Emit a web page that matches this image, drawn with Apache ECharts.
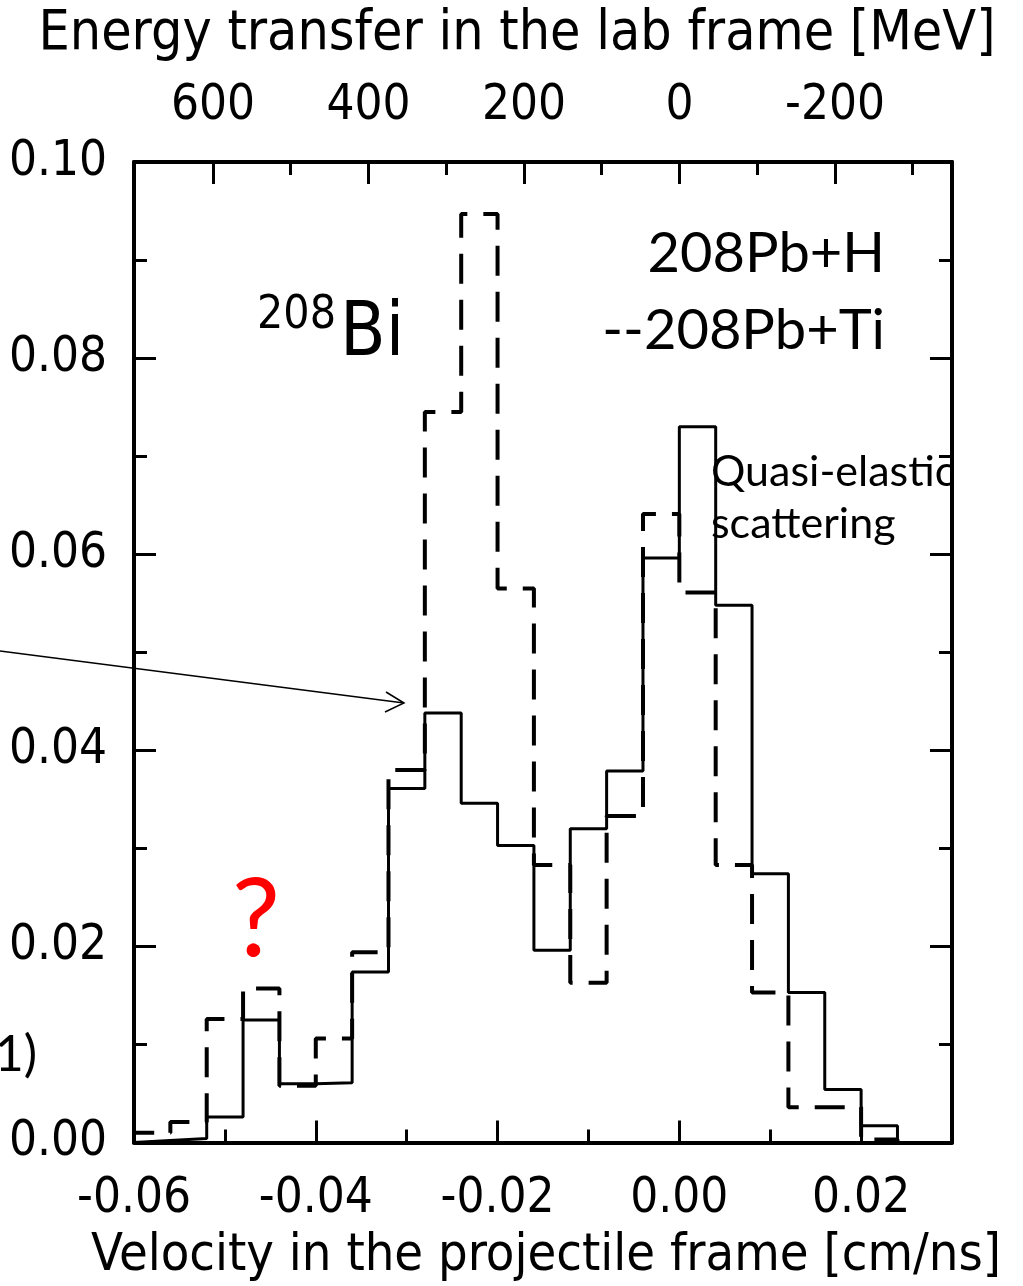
<!DOCTYPE html>
<html lang="en">
<head>
    <meta charset="UTF-8">
    <title>208Bi velocity spectrum</title>
    <style>
        html, body { margin: 0; padding: 0; background: #fff; }
        #chart { width: 1023px; height: 1286px; }
    </style>
</head>
<body>
    <div id="chart"></div>
    <script src="https://cdn.jsdelivr.net/npm/echarts@6.0.0/dist/echarts.min.js"></script>
    <script>
        // histogram bins (left edge, cm/ns), width 0.004
        var binLeft = [-0.060, -0.056, -0.052, -0.048, -0.044, -0.040, -0.036, -0.032, -0.028, -0.024, -0.020,
            -0.016, -0.012, -0.008, -0.004, 0.000, 0.004, 0.008, 0.012, 0.016, 0.020];
        var binWidth = 0.004;

        // 208Pb+H (solid)
        var pbH = [0.0002, 0.0004, 0.0026, 0.0125, 0.0060, 0.0061, 0.0174, 0.0361, 0.0438, 0.0346, 0.0303,
            0.0196, 0.0320, 0.0379, 0.0596, 0.0730, 0.0548, 0.0274, 0.0153, 0.0054, 0.0017];
        // 208Pb+Ti (dashed)
        var pbTi = [0.0010, 0.0021, 0.0126, 0.0157, 0.0058, 0.0106, 0.0194, 0.0380, 0.0745, 0.0947, 0.0565,
            0.0283, 0.0163, 0.0333, 0.0641, 0.0561, 0.0283, 0.0153, 0.0036, 0.0036, 0.0003];

        // tick labels
        var velMajor = [-0.06, -0.04, -0.02, 0, 0.02];
        var velMinor = [-0.05, -0.03, -0.01, 0.01];
        var yMajor = [0, 0.02, 0.04, 0.06, 0.08, 0.10];
        var yMinor = [0.01, 0.03, 0.05, 0.07, 0.09];
        var energyMajor = [600, 400, 200, 0, -200];
        var energyMinor = [500, 300, 100, -100, -300];

        var axisFont = "'DejaVu Sans Condensed', 'DejaVu Sans', sans-serif";
        var slideFont = "Lato, 'Open Sans', sans-serif";

        // histogram outline as step points
        var stepPoints = function (vals) {
            var pts = [[binLeft[0], 0]];
            for (var i = 0; i < vals.length; i++) {
                pts.push([binLeft[i], vals[i]]);
                pts.push([binLeft[i] + binWidth, vals[i]]);
            }
            pts.push([binLeft[binLeft.length - 1] + binWidth, 0]);
            return pts;
        };

        var frame = { show: true, onZero: false, lineStyle: { color: '#000', width: 4 } };
        var noLine = { show: false, onZero: false };
        var majorTick = function (vals) {
            return { show: true, inside: true, length: 22, customValues: vals, lineStyle: { color: '#000', width: 3 } };
        };
        var minorTick = function (vals) {
            return { show: true, inside: true, length: 13, customValues: vals, lineStyle: { color: '#000', width: 3 } };
        };
        var labelStyle = { color: '#000', fontFamily: axisFont, fontSize: 49 };

        var myChart = echarts.init(document.getElementById('chart'));

        var option = {
            animation: false,
            backgroundColor: '#fff',
            grid: { left: 134, right: 71, top: 162, bottom: 143.5, outerBoundsMode: 'none' },
            xAxis: [
                {
                    type: 'value', position: 'bottom', min: -0.06, max: 0.03,
                    axisLine: frame, axisTick: majorTick(velMajor), splitLine: { show: false },
                    axisLabel: Object.assign({
                        customValues: velMajor, margin: 32,
                        formatter: function (v) { return v.toFixed(2); }
                    }, labelStyle)
                },
                {
                    type: 'value', position: 'bottom', min: -0.06, max: 0.03,
                    axisLine: noLine, axisTick: minorTick(velMinor), splitLine: { show: false },
                    axisLabel: { show: false }
                },
                {
                    // energy transfer in the lab frame, runs the other way
                    type: 'value', position: 'top', inverse: true, min: -350.5, max: 701.6,
                    axisLine: frame, axisTick: majorTick(energyMajor), splitLine: { show: false },
                    axisLabel: Object.assign({
                        customValues: energyMajor, margin: 31,
                        formatter: function (v) { return String(v); }
                    }, labelStyle)
                },
                {
                    type: 'value', position: 'top', inverse: true, min: -350.5, max: 701.6,
                    axisLine: noLine, axisTick: minorTick(energyMinor), splitLine: { show: false },
                    axisLabel: { show: false }
                }
            ],
            yAxis: [
                {
                    type: 'value', position: 'left', min: 0, max: 0.10,
                    axisLine: frame, axisTick: majorTick(yMajor), splitLine: { show: false },
                    axisLabel: Object.assign({
                        customValues: yMajor, margin: 27,
                        formatter: function (v) { return v.toFixed(2); }
                    }, labelStyle)
                },
                {
                    type: 'value', position: 'left', min: 0, max: 0.10,
                    axisLine: noLine, axisTick: minorTick(yMinor), splitLine: { show: false },
                    axisLabel: { show: false }
                },
                {
                    type: 'value', position: 'right', min: 0, max: 0.10,
                    axisLine: frame, axisTick: majorTick(yMajor), splitLine: { show: false },
                    axisLabel: { show: false }
                },
                {
                    type: 'value', position: 'right', min: 0, max: 0.10,
                    axisLine: noLine, axisTick: minorTick(yMinor), splitLine: { show: false },
                    axisLabel: { show: false }
                }
            ],
            series: [
                {
                    name: '208Pb+Ti', type: 'line', xAxisIndex: 0, yAxisIndex: 0,
                    data: stepPoints(pbTi), showSymbol: false, symbol: 'none', z: 3,
                    lineStyle: { color: '#000', width: 4, type: [30, 16] }
                },
                {
                    name: '208Pb+H', type: 'line', xAxisIndex: 0, yAxisIndex: 0,
                    data: stepPoints(pbH), showSymbol: false, symbol: 'none', z: 4,
                    lineStyle: { color: '#000', width: 3, type: 'solid' }
                }
            ],
            graphic: [
                // axis titles
                {
                    type: 'text', x: 517, y: 35, z: 100,
                    style: { text: 'Energy transfer in the lab frame [MeV]', fill: '#000', font: '55px ' + axisFont, align: 'center', verticalAlign: 'middle' }
                },
                {
                    type: 'text', x: 546, y: 1256, z: 100,
                    style: { text: 'Velocity in the projectile frame [cm/ns]', fill: '#000', font: '52px ' + axisFont, align: 'center', verticalAlign: 'middle' }
                },
                // 208Bi
                {
                    type: 'text', x: 257, y: 316, z: 100,
                    style: { text: '208', fill: '#000', font: '46px ' + axisFont, align: 'left', verticalAlign: 'middle' }
                },
                {
                    type: 'text', x: 340, y: 336, z: 100,
                    style: { text: 'Bi', fill: '#000', font: "74px 'Liberation Sans Narrow', " + axisFont, align: 'left', verticalAlign: 'middle' }
                },
                // legend-like labels
                {
                    type: 'text', x: 885, y: 254, z: 100,
                    style: { text: '208Pb+H', fill: '#000', font: '56px ' + slideFont, align: 'right', verticalAlign: 'middle' }
                },
                {
                    type: 'text', x: 885, y: 331, z: 100,
                    style: { text: '--208Pb+Ti', fill: '#000', font: '56px ' + slideFont, align: 'right', verticalAlign: 'middle' }
                },
                {
                    type: 'text', x: 711, y: 472, z: 100,
                    style: { text: 'Quasi-elastic', fill: '#000', font: '43px ' + slideFont, align: 'left', verticalAlign: 'middle' }
                },
                {
                    type: 'text', x: 711, y: 524, z: 100,
                    style: { text: 'scattering', fill: '#000', font: '43px ' + slideFont, align: 'left', verticalAlign: 'middle' }
                },
                {
                    type: 'text', x: 256, y: 921, z: 100,
                    style: { text: '?', fill: '#ff0000', font: '108px ' + slideFont, align: 'center', verticalAlign: 'middle' }
                },
                {
                    type: 'text', x: 37, y: 1055, z: 100,
                    style: { text: '1)', fill: '#000', font: '50px ' + slideFont, align: 'right', verticalAlign: 'middle' }
                },
                // arrow from the cut-off slide text
                {
                    type: 'line', z: 100,
                    shape: { x1: 0, y1: 651, x2: 404, y2: 703 },
                    style: { stroke: '#000', lineWidth: 1.5 }
                },
                {
                    type: 'polyline', z: 100,
                    shape: { points: [[386, 692], [404, 703], [385, 712]] },
                    style: { stroke: '#000', lineWidth: 1.5, fill: null }
                }
            ]
        };
        myChart.setOption(option, true);
    </script>
</body>
</html>
